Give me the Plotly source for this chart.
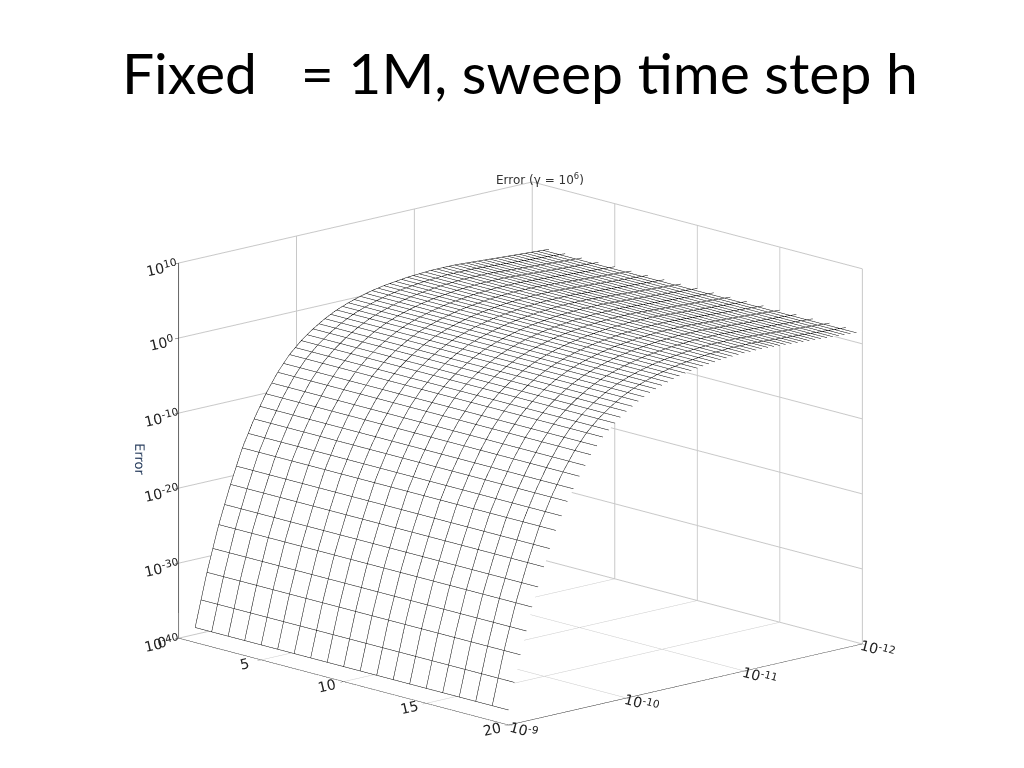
import numpy as np
import plotly.graph_objects as go

# Sample index along the first axis
n_index = list(range(1, 21))

# Time step exponents: h = 10^-9 ... 10^-12
h_exp = [9.0, 9.1, 9.2, 9.3, 9.4, 9.5, 9.6, 9.7, 9.8, 9.9, 10.0,
         10.1, 10.2, 10.3, 10.4, 10.5, 10.6, 10.7, 10.8, 10.9, 11.0,
         11.1, 11.2, 11.3, 11.4, 11.5, 11.6, 11.7, 11.8, 11.9, 12.0]

# log10(Error) for each h (nearly constant along index)
log_err = [-38, -31, -25, -20, -15.5, -12, -9, -6.5, -4.5, -3, -1.8,
           -0.8, 0, 0.6, 1.1, 1.5, 1.8, 2.0, 2.2, 2.3, 2.4,
           2.4, 2.4, 2.3, 2.2, 2.1, 2.0, 1.9, 1.8, 1.7, 1.6]

z_ticks = [-40, -30, -20, -10, 0, 10]
z_labels = ["10<sup>-40</sup>", "10<sup>-30</sup>", "10<sup>-20</sup>",
            "10<sup>-10</sup>", "10<sup>0</sup>", "10<sup>10</sup>"]
h_ticks = [9, 10, 11, 12]
h_labels = ["10<sup>-9</sup>", "10<sup>-10</sup>", "10<sup>-11</sup>", "10<sup>-12</sup>"]

Z = np.array([log_err for _ in n_index]).T  # rows: h, cols: index

fig = go.Figure(go.Surface(
    x=n_index, y=h_exp, z=Z,
    colorscale=[[0, "white"], [1, "white"]], showscale=False,
    lighting=dict(ambient=1, diffuse=0, specular=0),
    contours=dict(
        x=dict(show=True, start=1, end=20, size=1, color="black", width=2),
        y=dict(show=True, start=9, end=12, size=0.05, color="black", width=1),
    ),
))

axis_common = dict(showbackground=False, gridcolor="#c8c8c8", showline=True,
                   linecolor="black", zeroline=False, ticks="outside",
                   tickfont=dict(family="DejaVu Sans", size=13, color="#222"))

fig.update_layout(
    width=1024, height=768, paper_bgcolor="white", margin=dict(l=0, r=0, t=0, b=0),
    scene=dict(
        domain=dict(x=[0.03, 0.97], y=[0.0, 0.84]),
        xaxis=dict(range=[0, 20], tickvals=[0, 5, 10, 15, 20], title="", **axis_common),
        yaxis=dict(range=[9, 12], tickvals=h_ticks, ticktext=h_labels, title="", **axis_common),
        zaxis=dict(range=[-40, 10], tickvals=z_ticks, ticktext=z_labels,
                   title=dict(text="Error", font=dict(family="DejaVu Sans", size=13)),
                   **axis_common),
        camera=dict(eye=dict(x=1.5, y=-1.4, z=0.52), center=dict(x=0, y=0, z=0.0),
                    projection=dict(type="orthographic")),
        aspectmode="manual", aspectratio=dict(x=1.5, y=1.5, z=1.2),
    ),
    annotations=[
        dict(text="Fixed   = 1M, sweep time step h", x=0.5, y=0.87, xref="paper",
             yref="paper", showarrow=False, yanchor="bottom",
             font=dict(family="Lato", size=57, color="black")),
        dict(text="Error (γ = 10<sup>6</sup>)", x=0.52, y=0.79, xref="paper",
             yref="paper", showarrow=False,
             font=dict(family="DejaVu Sans", size=12, color="#333")),
    ],
)

fig.write_html("out.html")
